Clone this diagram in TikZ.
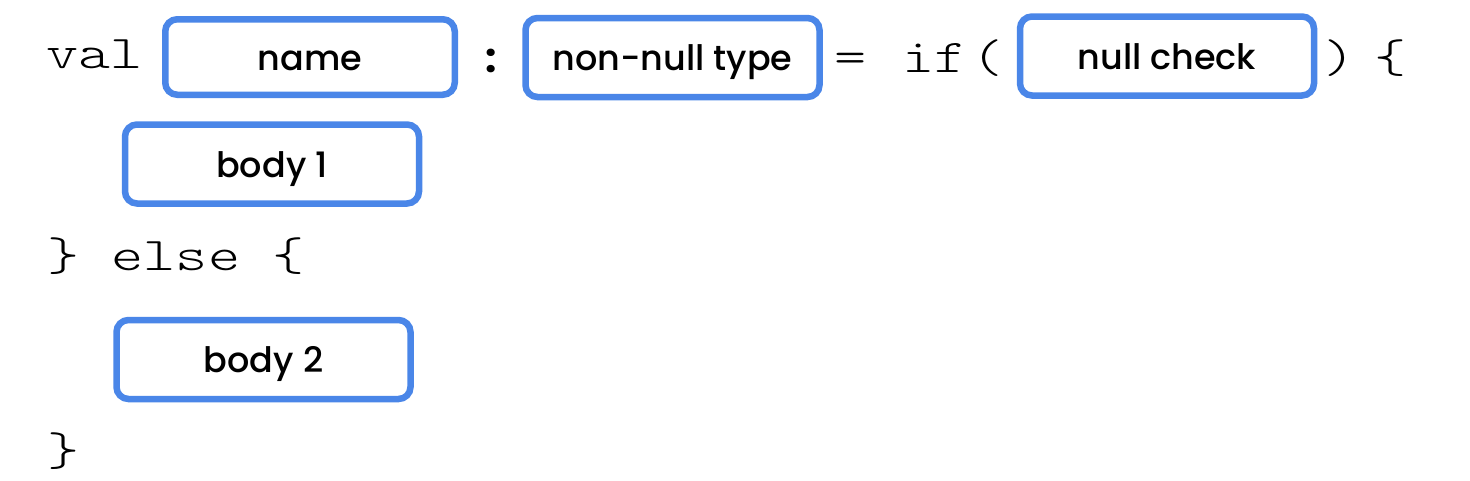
\documentclass[tikz,border=0pt]{standalone}
\usepackage{fontspec}
\setmainfont{Poppins}
\newfontfamily\labelfont{Poppins}[UprightFont={* Medium}]
\newfontfamily\codefont[FakeStretch=1.3]{Latin Modern Mono Light}
\definecolor{boxblue}{HTML}{4A86E8}
\definecolor{codegray}{HTML}{000000}
\begin{document}
\begin{tikzpicture}[x=1pt,y=-1pt,
  slot/.style={draw=boxblue, line width=6.5pt, rounded corners=12pt, inner sep=0pt,
    text height=30pt, text depth=4pt, font=\labelfont\fontsize{35}{38}\selectfont,
    minimum width=294pt, minimum height=79pt},
  code/.style={inner sep=0pt, anchor=base, text=codegray, font=\codefont\fontsize{47}{50}\selectfont},
  codew/.style={code, anchor=base west}]
\useasboundingbox[fill=white] (0,0) rectangle (1470,480);
% slots
\node[slot, minimum width=289.5pt, minimum height=75.5pt] (name) at (310,57) {name};
\node[slot] (type) at (672.5,57.5) {non-null type};
\node[slot] (check) at (1167,56) {null check};
\node[slot] (body1) at (272,164) {body 1};
\node[slot] (body2) at (263.5,359.5) {body 2};
% code text
\node[codew] (val) at (46,68) {val};
\node[inner sep=0pt, anchor=base, font=\bfseries\fontsize{40}{44}\selectfont] (colon) at (491,72) {:};
\node[code] (eq) at (851,72) {=};
\node[code] (if) at (934.5,72) {if};
\node[code] (lp) at (988,72) {(};
\node[code] (rp) at (1340,72) {)};
\node[code] (ob) at (1391,72) {\{};
\node[codew] (else) at (47.5,270) {\} else \{};
\node[code] (cb) at (64,465) {\}};
\end{tikzpicture}
\end{document}
